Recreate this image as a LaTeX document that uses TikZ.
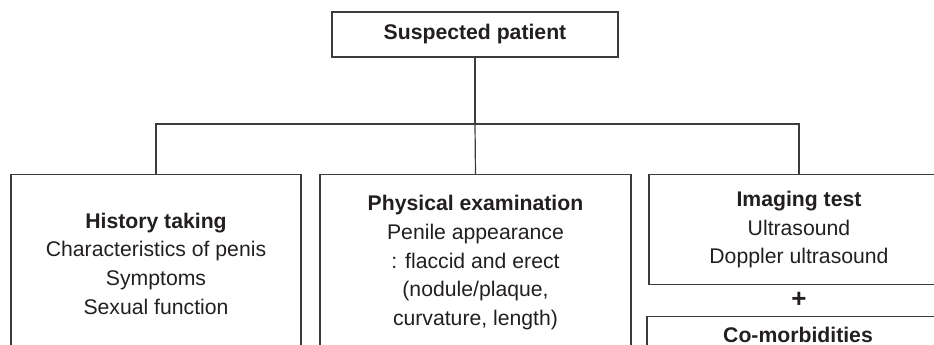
\documentclass[tikz,border=0pt]{standalone}
\usepackage{fontspec}
\setmainfont{Liberation Sans}
\definecolor{cline}{RGB}{60,60,60}
\definecolor{ctext}{RGB}{35,31,32}

\tikzset{
  flowbox/.style={draw=cline, line width=0.6pt, align=center, inner sep=0pt,
    text=ctext, font=\fontsize{10.6}{14.3}\selectfont},
  link/.style={draw=cline, line width=0.6pt}
}

\begin{document}
\begin{tikzpicture}[x=0.5pt, y=0.5pt, yscale=-1]
\clip (0,0) rectangle (934,344);
\useasboundingbox (0,0) rectangle (934,344);
% top box
\node[flowbox, minimum width=143pt, minimum height=22.5pt] (suspect) at (475,34.5)
  {\textbf{Suspected patient}};
% three branches
\node[flowbox, minimum width=145pt, minimum height=89pt, anchor=north] (history) at (156,174)
  {\textbf{History taking}\\Characteristics of penis\\Symptoms\\Sexual function};
\node[flowbox, minimum width=155.5pt, minimum height=88pt, anchor=north] (physical) at (475.5,174)
  {\textbf{Physical examination}\\Penile appearance\\: flaccid and erect\\(nodule/plaque,\\curvature, length)};
% right column runs off the page on the right
\node[flowbox, minimum width=150pt, minimum height=55pt, anchor=north] (imaging) at (799,174)
  {\textbf{Imaging test}\\Ultrasound\\Doppler ultrasound};
\node[text=ctext, font=\fontsize{13}{14}\selectfont\bfseries] (plus) at (799,300) {+};
\node[flowbox, minimum width=151pt, minimum height=18pt, anchor=north] (comorb) at (798,316)
  {\textbf{Co-morbidities}};
% connectors
\coordinate (split) at (475,124);
\draw[link] (suspect.south) -- (split);
\draw[link] (physical.north) -- (split);
\draw[link] (history.north) |- (split) -| (imaging.north);
\end{tikzpicture}
\end{document}
